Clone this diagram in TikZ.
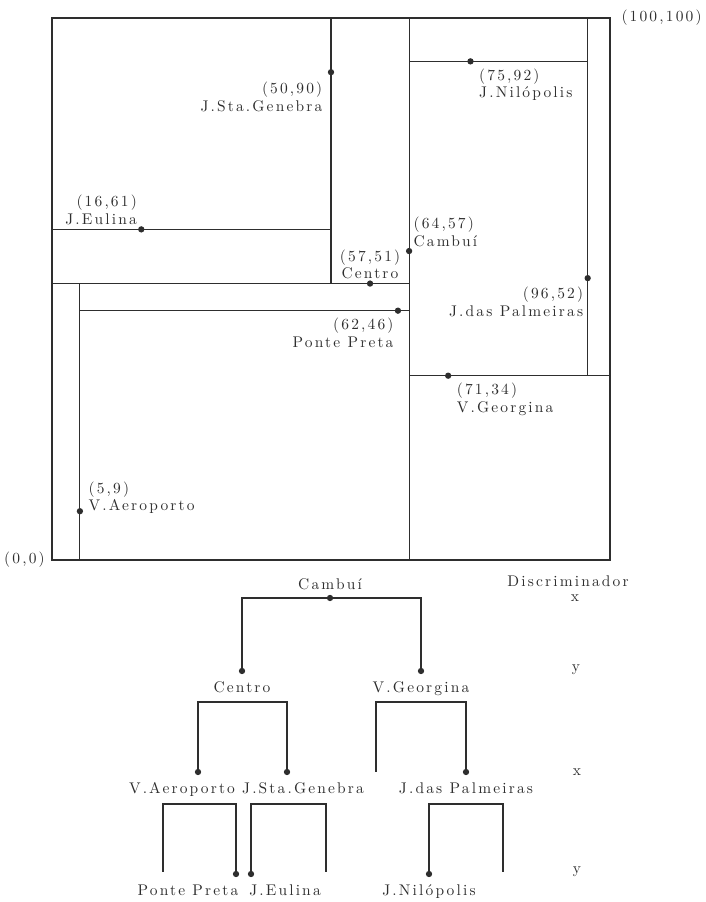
\documentclass[tikz,border=0pt]{standalone}
\usepackage{fontspec}
\usetikzlibrary{positioning, calc}
\newfontfamily\lblfont{lmroman10-regular.otf}[LetterSpace=14]
\definecolor{ink}{HTML}{2E2E2E}

\begin{document}
\begin{tikzpicture}[
    lbl/.style={font=\lblfont\fontsize{11}{12.5}\selectfont, text=ink, inner sep=3pt},
    part/.style={ink, line width=0.8pt},
    dot/.style={circle, fill=ink, inner sep=0pt, minimum size=4.5pt},
    link/.style={ink, line width=0.8pt},
]
\useasboundingbox (0,0) rectangle (17.625,22.55);

% Map of the plane (data coordinates)
\begin{scope}[shift={(1.3,8.55)}, x=0.1395cm, y=0.1355cm]
\draw[part] (0,0) rectangle (100,100);
\draw[part] (64,0) -- (64,100);
\draw[part] (0,51) -- (64,51);
\draw[part] (50,51) -- (50,100);
\draw[part] (0,61) -- (50,61);
\draw[part] (5,0) -- (5,51);
\draw[part] (5,46) -- (64,46);
\draw[part] (64,34) -- (100,34);
\draw[part] (96,34) -- (96,100);
\draw[part] (64,92) -- (96,92);

\node[dot] (pCambui) at (64,57) {};
\node[dot] (pCentro) at (57,51) {};
\node[dot] (pGenebra) at (50,90) {};
\node[dot] (pEulina) at (16,61) {};
\node[dot] (pAero) at (5,9) {};
\node[dot] (pPonte) at (62,46) {};
\node[dot] (pGeorg) at (71,34) {};
\node[dot] (pPalm) at (96,52) {};
\node[dot] (pNilo) at (75,92) {};

\node[lbl, above right, align=left] (lCambui) at (pCambui) {(64,57)\\Cambuí};
\node[lbl, above, align=center] (lCentro) at (pCentro) {(57,51)\\Centro};
\node[lbl, below left, align=right, xshift=-3pt, yshift=-4pt] (lGenebra) at (pGenebra) {(50,90)\\J.Sta.Genebra};
\node[lbl, above left, align=right] (lEulina) at (pEulina) {(16,61)\\J.Eulina};
\node[lbl, above right, align=left, xshift=3pt, yshift=-5pt] (lAero) at (pAero) {(5,9)\\V.Aeroporto};
\node[lbl, below left, align=right, yshift=-2pt] (lPonte) at (pPonte) {(62,46)\\Ponte Preta};
\node[lbl, below right, align=left, xshift=3pt, yshift=-2pt] (lGeorg) at (pGeorg) {(71,34)\\V.Georgina};
\node[lbl, below left, align=right, yshift=-3pt] (lPalm) at (pPalm) {(96,52)\\J.das Palmeiras};
\node[lbl, below right, align=left, xshift=3pt, yshift=-2pt] (lNilo) at (pNilo) {(75,92)\\J.Nilópolis};

\node[lbl, right, xshift=5pt] (lMax) at (100,100) {(100,100)};
\node[lbl, left, xshift=-2pt] (lMin) at (0,0) {(0,0)};
\end{scope}

% 2-d tree
\node[dot] (dCambui) at (8.25,7.6) {};
\node[dot] (dCentro) at (6.05,5.775) {};
\node[dot] (dGeorg) at (10.525,5.775) {};
\node[dot] (dAero) at (4.95,3.25) {};
\node[dot] (dGenebra) at (7.175,3.25) {};
\node[dot] (dPalm) at (11.65,3.25) {};
\node[dot] (dPonte) at (5.9,0.7) {};
\node[dot] (dEulina) at (6.275,0.7) {};
\node[dot] (dNilo) at (10.725,0.7) {};

\node[lbl, above=0pt of dCambui] (tCambui) {Cambuí};
\node[lbl, below=2pt of dCentro] (tCentro) {Centro};
\node[lbl, below=2pt of dGeorg] (tGeorg) {V.Georgina};
\node[lbl, below=2pt of dAero, xshift=-0.4cm] (tAero) {V.Aeroporto};
\node[lbl, below=2pt of dGenebra, xshift=0.4cm] (tGenebra) {J.Sta.Genebra};
\node[lbl, below=2pt of dPalm] (tPalm) {J.das Palmeiras};
\node[lbl, below=2pt of dPonte, xshift=-1.2cm] (tPonte) {Ponte Preta};
\node[lbl, below=2pt of dEulina, xshift=0.85cm] (tEulina) {J.Eulina};
\node[lbl, below=2pt of dNilo] (tNilo) {J.Nilópolis};

% bars under the labels and empty subtrees
\coordinate (bCentro) at (6.05,5.0);
\coordinate (bGeorg) at (10.525,5.0);
\coordinate (bAero) at (4.99,2.45);
\coordinate (bGenebra) at (7.21,2.45);
\coordinate (bPalm) at (11.65,2.45);
\coordinate (eGeorg) at (9.4,3.25);
\coordinate (eAero) at (4.075,0.75);
\coordinate (eGenebra) at (8.15,0.75);
\coordinate (ePalm) at (12.575,0.75);

\draw[link] (dCambui) -| (dCentro);
\draw[link] (dCambui) -| (dGeorg);
\draw[link] (bCentro) -| (dAero);
\draw[link] (bCentro) -| (dGenebra);
\draw[link] (bGeorg) -| (eGeorg);
\draw[link] (bGeorg) -| (dPalm);
\draw[link] (bAero) -| (eAero);
\draw[link] (bAero) -| (dPonte);
\draw[link] (bGenebra) -| (dEulina);
\draw[link] (bGenebra) -| (eGenebra);
\draw[link] (bPalm) -| (dNilo);
\draw[link] (bPalm) -| (ePalm);

% discriminator per level
\node[lbl] (disc) at (14.2,8.025) {Discriminador};
\node[lbl] (lev1) at (14.375,7.6) {x};
\node[lbl] (lev2) at (14.4,5.8) {y};
\node[lbl] (lev3) at (14.425,3.25) {x};
\node[lbl] (lev4) at (14.425,0.75) {y};

\end{tikzpicture}
\end{document}
